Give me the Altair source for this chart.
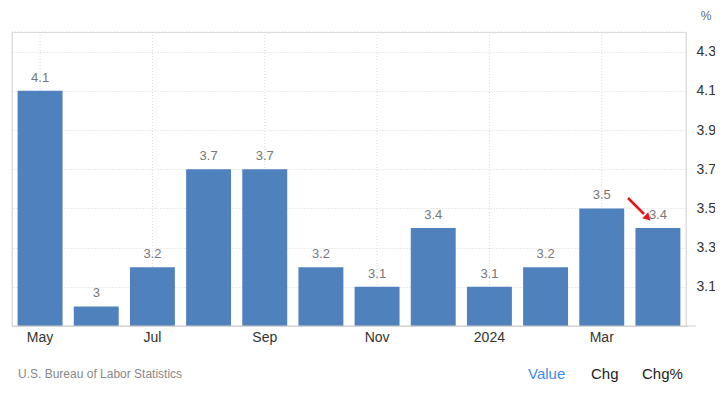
import altair as alt
import pandas as pd

months = ["May", "Jun", "Jul", "Aug", "Sep", "Oct", "Nov", "Dec", "2024", "Feb", "Mar", "Apr"]
values = [4.1, 3.0, 3.2, 3.7, 3.7, 3.2, 3.1, 3.4, 3.1, 3.2, 3.5, 3.4]
labels = ["4.1", "3", "3.2", "3.7", "3.7", "3.2", "3.1", "3.4", "3.1", "3.2", "3.5", "3.4"]
shown_months = ["May", "Jul", "Sep", "Nov", "2024", "Mar"]
y_ticks = [3.1, 3.3, 3.5, 3.7, 3.9, 4.1, 4.3]

W, H = 674, 294
FONT = "Liberation Sans"

df = pd.DataFrame({"month": months, "value": values, "label": labels})

xscale = alt.Scale(domain=months, paddingInner=0.2, paddingOuter=0.1)
yscale = alt.Scale(domain=[2.9, 4.4], nice=False, zero=False, clamp=True)

base = alt.Chart(df)

bars = base.mark_bar(color="#4f81bd").encode(
    x=alt.X("month:N", scale=xscale, sort=months,
            axis=alt.Axis(values=shown_months, title=None, labelAngle=0, ticks=False,
                          domain=False, grid=False, labelFontSize=14, labelColor="#333",
                          labelPadding=4, labelFont=FONT, bandPosition=0.5,
                          labelAlign="center", labelBaseline="top")),
    y=alt.Y("value:Q", scale=yscale,
            axis=alt.Axis(orient="right", values=y_ticks, title=None, ticks=False, domain=False,
                          grid=True, gridColor="#d9d9d9", gridDash=[1, 2], format=".1f",
                          labelFontSize=14, labelColor="#333", labelPadding=10, labelFont=FONT)),
    y2=alt.datum(2.9),
)

texts = base.mark_text(baseline="alphabetic", dy=-9, fontSize=13, color="#777", font=FONT).encode(
    x=alt.X("month:N", scale=xscale, sort=months),
    y=alt.Y("value:Q", scale=yscale),
    text="label:N",
)

vgrid = alt.Chart(pd.DataFrame({"month": shown_months})).mark_rule(
    color="#d9d9d9", strokeDash=[1, 2]
).encode(x=alt.X("month:N", scale=xscale, sort=months), y=alt.value(0), y2=alt.value(H))

top_line = alt.Chart(pd.DataFrame({"v": [4.4]})).mark_rule(
    color="#d9d9d9", strokeDash=[1, 2]
).encode(y=alt.Y("v:Q", scale=yscale), x=alt.value(0), x2=alt.value(W))

frame_df = pd.DataFrame({"k": [0]})
left_line = alt.Chart(frame_df).mark_rule(color="#ddd").encode(
    x=alt.value(0), y=alt.value(0), y2=alt.value(H))
right_line = alt.Chart(frame_df).mark_rule(color="#ddd").encode(
    x=alt.value(W), y=alt.value(0), y2=alt.value(H))
bottom_line = alt.Chart(frame_df).mark_rule(color="#ccc").encode(
    x=alt.value(0), x2=alt.value(W + 10), y=alt.value(H))

arrow_line = alt.Chart(frame_df).mark_rule(color="#e8141b", strokeWidth=2.5).encode(
    x=alt.value(616), y=alt.value(166), x2=alt.value(632), y2=alt.value(182))
arrow_head = alt.Chart(frame_df).mark_point(
    shape="triangle", filled=True, color="#e8141b", size=70, angle=135, opacity=1
).encode(x=alt.value(635), y=alt.value(185))

pct = alt.Chart(frame_df).mark_text(fontSize=12, color="#666", font=FONT).encode(
    x=alt.value(694), y=alt.value(-16), text=alt.value("%"))

source = alt.Chart(frame_df).mark_text(align="left", fontSize=12, color="#888", font=FONT).encode(
    x=alt.value(6), y=alt.value(48 + H), text=alt.value("U.S. Bureau of Labor Statistics"))
val_t = alt.Chart(frame_df).mark_text(align="left", fontSize=15, color="#3d8be8", font=FONT).encode(
    x=alt.value(516), y=alt.value(48 + H), text=alt.value("Value"))
chg_t = alt.Chart(frame_df).mark_text(align="left", fontSize=15, color="#222", font=FONT).encode(
    x=alt.value(579), y=alt.value(48 + H), text=alt.value("Chg"))
chgp_t = alt.Chart(frame_df).mark_text(align="left", fontSize=15, color="#222", font=FONT).encode(
    x=alt.value(630), y=alt.value(48 + H), text=alt.value("Chg%"))

chart = alt.layer(
    vgrid, top_line, bars, texts, left_line, right_line, bottom_line,
    arrow_line, arrow_head, pct, source, val_t, chg_t, chgp_t
).properties(
    width=W, height=H,
    autosize=alt.AutoSizeParams(type="none"),
    padding={"left": 4, "top": 24, "right": 29, "bottom": 60},
).configure_view(stroke=None).configure(background="white")

chart.save("out.html", embed_options={"renderer": "svg", "actions": False})
